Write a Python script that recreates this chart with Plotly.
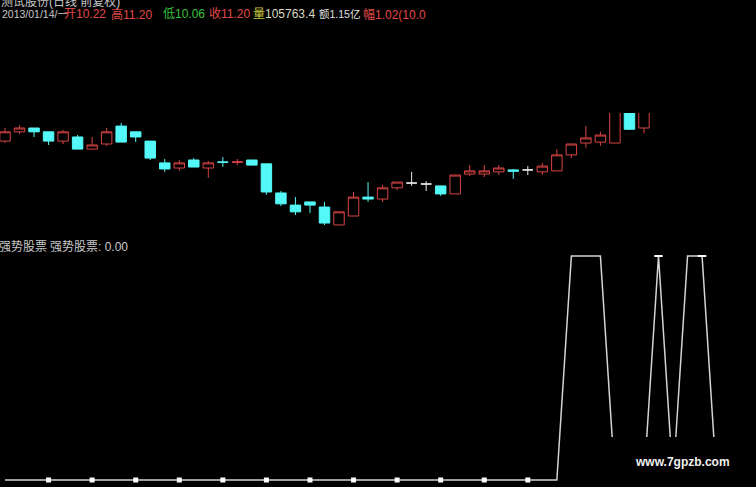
import plotly.graph_objects as go

# ---------------- data ----------------
# candle index (trading day), OHLC
red_idx   = [0, 1, 4, 6, 7, 12, 14, 16, 23, 24, 26, 27, 31, 32, 33, 34, 37, 38, 39, 40, 41, 42, 44]
red_open  = [9.81, 10.10, 9.81, 9.56, 9.72, 8.97, 8.97, 9.15, 7.19, 7.47, 8.00, 8.35, 8.16, 8.78, 8.78, 8.85, 8.85, 8.88, 9.38, 9.75, 9.78, 9.75, 10.22]
red_high  = [10.22, 10.31, 10.16, 9.94, 10.22, 9.22, 9.19, 9.25, 7.60, 8.22, 8.44, 8.53, 8.75, 9.06, 9.06, 9.06, 9.13, 9.56, 9.72, 10.28, 10.10, 11.00, 11.20]
red_low   = [9.75, 10.03, 9.72, 9.56, 9.66, 8.88, 8.66, 9.06, 7.19, 7.47, 7.91, 8.28, 8.16, 8.72, 8.69, 8.75, 8.75, 8.88, 9.28, 9.60, 9.66, 9.75, 10.06]
red_close = [10.10, 10.22, 10.10, 9.69, 10.10, 9.13, 9.13, 9.16, 7.60, 8.06, 8.35, 8.53, 8.75, 8.88, 8.88, 8.97, 9.03, 9.38, 9.72, 9.91, 10.00, 10.90, 11.20]

cyan_idx   = [2, 3, 5, 8, 9, 10, 11, 13, 15, 17, 18, 19, 20, 21, 22, 25, 30, 35, 43]
cyan_open  = [10.22, 10.10, 9.94, 10.28, 10.10, 9.81, 9.13, 9.22, 9.16, 9.22, 9.10, 8.19, 7.81, 7.91, 7.75, 8.06, 8.41, 8.91, 10.85]
cyan_high  = [10.22, 10.10, 10.00, 10.38, 10.10, 9.81, 9.25, 9.28, 9.31, 9.22, 9.10, 8.25, 8.06, 7.91, 7.91, 8.53, 8.41, 8.94, 10.95]
cyan_low   = [9.94, 9.69, 9.56, 9.78, 9.78, 9.22, 8.85, 9.00, 9.00, 9.06, 8.13, 7.78, 7.50, 7.56, 7.19, 7.91, 8.10, 8.63, 10.16]
cyan_close = [10.10, 9.81, 9.56, 9.78, 9.94, 9.28, 8.94, 9.00, 9.15, 9.06, 8.22, 7.85, 7.60, 7.81, 7.25, 8.00, 8.16, 8.87, 10.18]

white_idx   = [28, 29, 36]
white_open  = [8.50, 8.47, 8.91]
white_high  = [8.85, 8.56, 9.03]
white_low   = [8.41, 8.25, 8.75]
white_close = [8.50, 8.47, 8.91]

# indicator 强势股票 (0/1 signal)
ind_idx = list(range(50))
ind_val = [0] * 39 + [1, 1, 1, 0, 0, 0, 1, 0, 1, 1, 0]
tick_marks = [3, 6, 9, 12, 15, 18, 21, 24, 27, 30, 33, 36]
peak_marks = [45, 48]

header_parts = [
    (1, "2013/01/14/一", "#c8c8c8", 10.5),
    (63, "开10.22", "#e04848", 12),
    (110, "高11.20", "#e04848", 12),
    (162, "低10.06", "#3cc03c", 12),
    (208, "收11.20", "#e04848", 12),
    (252, "量", "#c8c840", 12),
    (264, "105763.4", "#d8d8c0", 12),
    (318, "额1.15亿", "#e0e0e0", 10.5),
    (362, "幅1.02(10.0", "#e04848", 12),
]
title_text = "测试股份(日线 前复权)"
ind_labels = [(-2, "强势股票"), (49, "强势股票: 0.00")]
watermark = "www.7gpzb.com"

# ---------------- figure ----------------
W, H = 756, 487
RED = "#d84444"
CYAN = "#54f8f8"
FONT = "Liberation Sans, Noto Sans CJK SC, sans-serif"

fig = go.Figure()

fig.add_trace(go.Candlestick(
    x=red_idx, open=red_open, high=red_high, low=red_low, close=red_close,
    increasing=dict(line=dict(color=RED, width=1), fillcolor="black"),
    decreasing=dict(line=dict(color=RED, width=1), fillcolor="black"),
    xaxis="x", yaxis="y", hoverinfo="skip", showlegend=False))
fig.add_trace(go.Candlestick(
    x=cyan_idx, open=cyan_open, high=cyan_high, low=cyan_low, close=cyan_close,
    increasing=dict(line=dict(color=CYAN, width=1), fillcolor=CYAN),
    decreasing=dict(line=dict(color=CYAN, width=1), fillcolor=CYAN),
    xaxis="x", yaxis="y", hoverinfo="skip", showlegend=False))
fig.add_trace(go.Candlestick(
    x=white_idx, open=white_open, high=white_high, low=white_low, close=white_close,
    increasing=dict(line=dict(color="#e8e8e8", width=1), fillcolor="#e8e8e8"),
    decreasing=dict(line=dict(color="#e8e8e8", width=1), fillcolor="#e8e8e8"),
    xaxis="x", yaxis="y", hoverinfo="skip", showlegend=False))

fig.add_trace(go.Scatter(
    x=ind_idx, y=ind_val, mode="lines",
    line=dict(color="#d4d4d4", width=1.5),
    xaxis="x", yaxis="y2", hoverinfo="skip", showlegend=False))
fig.add_trace(go.Scatter(
    x=tick_marks, y=[0] * len(tick_marks), mode="markers",
    marker=dict(symbol="square", size=5, color="white"),
    xaxis="x", yaxis="y2", hoverinfo="skip", showlegend=False))
fig.add_trace(go.Scatter(
    x=peak_marks, y=[1] * len(peak_marks), mode="markers",
    marker=dict(symbol="line-ew", size=6, line=dict(color="white", width=2)),
    xaxis="x", yaxis="y2", hoverinfo="skip", showlegend=False))

px_per = 14.52
x0 = -5 / px_per
x1 = 44 + (W - 644) / px_per

def pfy(py):
    return 1 - py / H

annotations = []
for px, txt, col, fs in header_parts:
    annotations.append(dict(x=px / W, y=pfy(14.5), xref="paper", yref="paper",
                            xanchor="left", yanchor="middle", text=txt, showarrow=False,
                            borderpad=0, font=dict(family=FONT, size=fs, color=col)))
annotations.append(dict(x=0, y=pfy(2), xref="paper", yref="paper",
                        xanchor="left", yanchor="middle", text=title_text, showarrow=False,
                        borderpad=0, font=dict(family=FONT, size=12, color="#c8c8c8")))
for px, txt in ind_labels:
    annotations.append(dict(x=px / W, y=pfy(247), xref="paper", yref="paper",
                            xanchor="left", yanchor="middle", text=txt, showarrow=False,
                            borderpad=0, font=dict(family=FONT, size=12, color="#c8c8c8")))

shapes = [dict(type="rect", xref="paper", yref="paper", layer="above",
               x0=590 / W, x1=1, y0=0, y1=pfy(437),
               fillcolor="black", line=dict(width=0))]
annotations.append(dict(x=682 / W, y=pfy(462), xref="paper", yref="paper",
                        xanchor="center", yanchor="middle", text="<b>" + watermark + "</b>",
                        showarrow=False, font=dict(family=FONT, size=12, color="#f0f0f0")))

fig.update_layout(
    width=W, height=H,
    margin=dict(l=0, r=0, t=0, b=0),
    paper_bgcolor="black", plot_bgcolor="black",
    boxgap=0.28, boxgroupgap=0,
    xaxis=dict(range=[x0, x1], domain=[0, 1], visible=False, showgrid=False,
               zeroline=False, rangeslider=dict(visible=False), anchor="y2"),
    yaxis=dict(range=[10.22 - 112 / 32, 10.22 + 15 / 32], domain=[pfy(240), pfy(113)],
               visible=False, showgrid=False, zeroline=False, anchor="x"),
    yaxis2=dict(range=[-7 / 224, 230 / 224], domain=[0, pfy(250)],
                visible=False, showgrid=False, zeroline=False, anchor="x"),
    annotations=annotations,
    shapes=shapes,
    showlegend=False,
)

fig.write_html("out.html", config={"displayModeBar": False},
               post_script="document.body.style.margin='0';document.body.style.background='black';")
